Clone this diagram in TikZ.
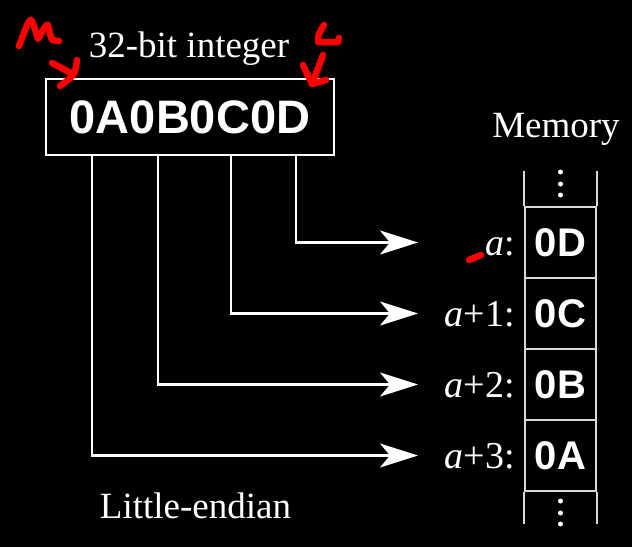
\documentclass[tikz,border=0pt]{standalone}
\usepackage{fontspec}
\setmainfont{Liberation Serif}
\newfontfamily\hexfont{Liberation Sans}
\usetikzlibrary{calc,arrows.meta}

\begin{document}
\begin{tikzpicture}[x=1pt,y=-1pt,
  every node/.style={text=white,inner sep=0pt},
  serif/.style={font=\fontsize{#1}{#1}\selectfont},
  hex/.style={font=\hexfont\bfseries\fontsize{#1}{#1}\selectfont},
  lbl/.style={serif=38,anchor=base east},
  cell/.style={hex=40,draw=white!85!black,line width=2pt,minimum width=71pt,minimum height=71pt},
  memline/.style={draw=white!85!black,line width=2pt},
  link/.style={white,line width=2.5pt,-{Stealth[length=38pt,width=24pt,inset=10pt]}},
  redpen/.style={red,line width=6.5pt,line cap=round,line join=round}]
% Background
\fill[black] (0,0) rectangle (632,547);

% 32-bit integer
\node[draw=white,line width=2.5pt,minimum width=288pt,minimum height=76pt,hex=47] (int) at (190,117) {0A0B0C0D};
\node[serif=37,anchor=base] (title) at (189,57) {32-bit integer};
\node[serif=37,anchor=base] (endian) at (195.5,518) {Little-endian};

% Memory column
\node[serif=37,anchor=base] (mem) at (556,137) {Memory};
\foreach \v/\n in {D/0,C/1,B/2,A/3}
  \node[cell] (m\n) at (560.5,{242.5+71*\n}) {0\v};
\draw[memline] (m0.north west) -- ++(0,-35) (m0.north east) -- ++(0,-35);
\draw[memline] (m3.south west) -- ++(0,32) (m3.south east) -- ++(0,32);
\foreach \d in {-34,-22,-11}
  \fill[white] ($(m0.north)+(0,\d)$) circle (2.5pt);
\foreach \d in {9,21,32}
  \fill[white] ($(m3.south)+(0,\d)$) circle (2.5pt);

% Addresses
\node[lbl] (a0) at ($(m0.west)+(-9,12.5)$) {\textit{a}:};
\node[lbl] (a1) at ($(m1.west)+(-9,12.5)$) {\textit{a}+1:};
\node[lbl] (a2) at ($(m2.west)+(-9,12.5)$) {\textit{a}+2:};
\node[lbl] (a3) at ($(m3.west)+(-9,12.5)$) {\textit{a}+3:};

% Byte order
\coordinate (tip) at (418,0);
\draw[link] (int.south -| 296,0) |- (tip |- m0);
\draw[link] (int.south -| 231,0) |- (tip |- m1);
\draw[link] (int.south -| 158,0) |- (tip |- m2);
\draw[link] (int.south -| 92,0) |- (tip |- m3);

% Hand notes
\draw[redpen] (19,46) -- (27,25) .. controls (31,18) .. (34,26) -- (38,39) -- (45,27) .. controls (48,23) .. (50,34) -- (52,40) -- (59,41);
\draw[redpen] (52,63) -- (71,73);
\draw[redpen] (77,60) .. controls (75,75) .. (60,86);
\draw[redpen] (324,25) .. controls (318,35) .. (318,42) -- (338,42) -- (339,38);
\draw[redpen] (323,55) -- (312,84);
\draw[redpen] (303,65) -- (312,84) -- (326,80);
\draw[redpen] (469,260) -- (481,255);
\end{tikzpicture}
\end{document}
